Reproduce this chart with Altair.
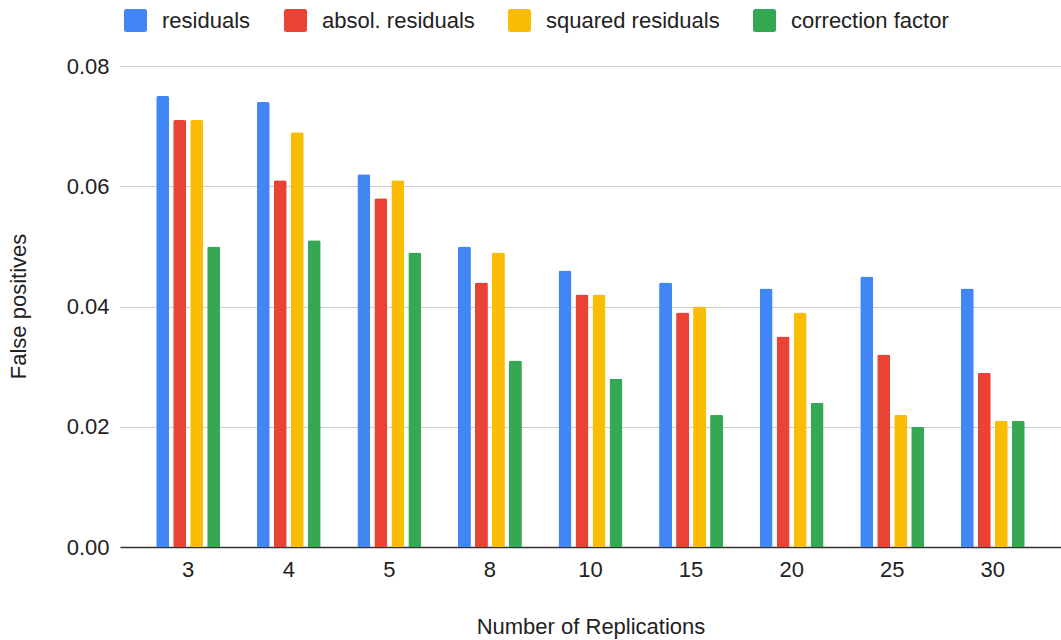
import altair as alt
import pandas as pd

# Number of replications (x categories)
replications = ["3", "4", "5", "8", "10", "15", "20", "25", "30"]

# False-positive rates per method
residuals = [0.075, 0.074, 0.062, 0.050, 0.046, 0.044, 0.043, 0.045, 0.043]
absol_residuals = [0.071, 0.061, 0.058, 0.044, 0.042, 0.039, 0.035, 0.032, 0.029]
squared_residuals = [0.071, 0.069, 0.061, 0.049, 0.042, 0.040, 0.039, 0.022, 0.021]
correction_factor = [0.050, 0.051, 0.049, 0.031, 0.028, 0.022, 0.024, 0.020, 0.021]

series_names = ["residuals", "absol. residuals", "squared residuals", "correction factor"]
series_values = [residuals, absol_residuals, squared_residuals, correction_factor]
series_colors = ["#4285F4", "#EA4335", "#FBBC04", "#34A853"]

rows = []
for name, vals in zip(series_names, series_values):
    for rep, v in zip(replications, vals):
        rows.append({"Replications": rep, "Method": name, "Value": v})
df = pd.DataFrame(rows)

FONT = "Liberation Sans"
FS = 22
rounded_square = (
    "M -0.78 -1 H 0.78 Q 1 -1 1 -0.78 V 0.78 Q 1 1 0.78 1 H -0.78 "
    "Q -1 1 -1 0.78 V -0.78 Q -1 -1 -0.78 -1 Z"
)

chart = (
    alt.Chart(df)
    .mark_bar(cornerRadiusTopLeft=2, cornerRadiusTopRight=2)
    .encode(
        x=alt.X(
            "Replications:N",
            sort=replications,
            scale=alt.Scale(paddingInner=0.364, paddingOuter=0.36),
            axis=alt.Axis(
                title="Number of Replications",
                labelAngle=0,
                labelFontSize=FS,
                labelColor="#222222",
                labelPadding=12,
                ticks=False,
                domainColor="#333333",
                domainWidth=1.5,
                titleFontSize=FS,
                titleFontWeight="normal",
                titleColor="#222222",
                titleBaseline="middle",
                titleY=79,
            ),
        ),
        xOffset=alt.XOffset(
            "Method:N",
            sort=series_names,
            scale=alt.Scale(paddingInner=0.235, paddingOuter=0),
        ),
        y=alt.Y(
            "Value:Q",
            scale=alt.Scale(domain=[0, 0.08]),
            axis=alt.Axis(
                title="False positives",
                values=[0, 0.02, 0.04, 0.06, 0.08],
                format=".2f",
                labelFontSize=FS,
                labelColor="#222222",
                labelPadding=11,
                ticks=False,
                domain=False,
                gridColor="#cccccc",
                gridWidth=1.2,
                titleFontSize=FS,
                titleFontWeight="normal",
                titleColor="#222222",
                titleBaseline="middle",
                titleX=-102,
                titleY=240,
            ),
        ),
        color=alt.Color(
            "Method:N",
            sort=series_names,
            scale=alt.Scale(domain=series_names, range=series_colors),
            legend=alt.Legend(
                title=None,
                orient="none",
                direction="horizontal",
                legendX=4,
                legendY=-57,
                symbolType=rounded_square,
                symbolSize=529,
                symbolStrokeWidth=0,
                symbolOpacity=1,
                labelFontSize=FS,
                labelColor="#222222",
                labelOffset=15,
                labelLimit=400,
                columnPadding=33,
                padding=0,
            ),
        ),
    )
    .properties(
        width=941,
        height=481,
        autosize=alt.AutoSizeParams(type="none"),
        padding={"left": 120, "top": 66, "right": 0, "bottom": 93},
    )
    .configure(font=FONT)
    .configure_view(stroke=None)
)

chart.save("out.html", embed_options={"renderer": "svg", "actions": False})
